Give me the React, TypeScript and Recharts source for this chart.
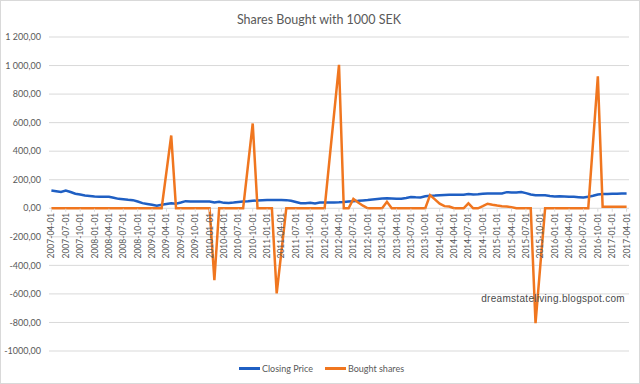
import React from 'react';
import { LineChart, Line, XAxis, YAxis, CartesianGrid, Legend } from 'recharts';

// monthly categories 2007-04 .. 2017-04
const START_YEAR = 2007;
const START_MONTH = 4;
const MONTH_COUNT = 121;
const months: string[] = Array.from({ length: MONTH_COUNT }, (_, i) => {
	const m = START_MONTH - 1 + i;
	const yy = START_YEAR + Math.floor(m / 12);
	const mm = (m % 12) + 1;
	return `${yy}-${String(mm).padStart(2, '0')}-01`;
});

const closingPrice = [
	125, 120, 114, 124, 114, 102, 96, 90, 86, 82, 80, 80, 80, 74, 66, 64, 60, 57, 47, 36,
	30, 24, 18, 24, 30, 35, 32, 40, 50, 48, 47, 47, 48, 47, 40, 46, 38, 37, 40, 44,
	48, 50, 53, 54, 56, 58, 58, 58, 58, 57, 52, 44, 35, 36, 38, 34, 40, 40, 41, 41,
	42, 44, 47, 50, 52, 55, 58, 62, 65, 68, 70, 69, 67, 66, 72, 79, 77, 76, 84, 88,
	89, 91, 93, 94, 94, 94, 95, 100, 96, 98, 101, 103, 103, 103, 104, 113, 111, 110, 114, 106,
	96, 92, 92, 91, 86, 82, 84, 83, 81, 80, 78, 76, 80, 88, 97, 100, 100, 101, 101, 103,
	104,
];

const boughtShares = [
	0, 0, 0, 0, 0, 0, 0, 0, 0, 0, 0, 0, 0, 0, 0, 0, 0, 0, 0, 0,
	0, 0, 0, 0, 255, 510, 0, 0, 0, 0, 0, 0, 0, 0, -504, 0, 0, 0, 0, 0,
	0, 297, 594, 0, 0, 0, 0, -596, -300, 0, 0, 0, 0, 0, 0, 0, 0, 0, 335, 670,
	1005, 0, 0, 65, 40, 18, 0, 0, 0, 0, 45, 0, 0, 0, 0, 0, 0, 0, 0, 92,
	62, 32, 15, 12, 0, 0, 0, 35, 0, 0, 15, 32, 25, 19, 15, 12, 8, 0, 0, 0,
	0, -805, -400, 0, 0, 0, 0, 0, 0, 0, 0, 0, 0, 462, 925, 10, 10, 10, 10, 10,
	10,
];

const yTicks = [-1000, -800, -600, -400, -200, 0, 200, 400, 600, 800, 1000, 1200];
const yTickLabels = ['-1000,00', '-800,00', '-600,00', '-400,00', '-200,00', '0,00', '200,00', '400,00', '600,00', '800,00', '1\u00a0000,00', '1\u00a0200,00'];

const data = months.map((m, i) => ({ date: m, closing: closingPrice[i], shares: boughtShares[i] }));

const Y_MIN = -1000;
const Y_MAX = 1200;
const TOP = 37;
const FONT = 'Lato, "Open Sans", sans-serif';
const TEXT = '#595959';

function DateTick(props: any) {
	const { x, y, payload } = props;
	// category axis crosses the value axis at 0
	const zeroY = TOP + (y - TOP) * (Y_MAX / (Y_MAX - Y_MIN));
	const ty = zeroY + 4;
	return (
		<g>
			<line x1={x} x2={x} y1={zeroY} y2={zeroY + 3} stroke='#d9d9d9' />
			<text
				x={x}
				y={ty}
				transform={`rotate(-90, ${x}, ${ty})`}
				textAnchor='end'
				dominantBaseline='central'
				fontSize={8.5}
				fontFamily={FONT}
				fill={TEXT}
			>
				{payload.value}
			</text>
		</g>
	);
}

function LegendContent(props: any) {
	const items = props.payload || [];
	return (
		<div style={{ display: 'flex', justifyContent: 'center', paddingLeft: 13, fontSize: 9, color: TEXT, fontFamily: FONT }}>
			{items.map((e: any, i: number) => (
				<span key={e.value} style={{ display: 'flex', alignItems: 'center', marginLeft: i ? 12 : 0 }}>
					<span style={{ display: 'inline-block', width: 21, height: 3, background: e.color, marginRight: 2 }} />
					{e.value}
				</span>
			))}
		</div>
	);
}

export default function App() {
	return (
		<div
			style={{
				position: 'absolute',
				left: 0,
				top: 0,
				width: 640,
				height: 384,
				background: '#fff',
				border: '1px solid #d9d9d9',
				boxSizing: 'border-box',
				fontFamily: FONT,
			}}
		>
			<div style={{ position: 'absolute', top: 11, left: 0, width: 636, textAlign: 'center', fontSize: 12.5, color: TEXT }}>
				Shares Bought with 1000 SEK
			</div>
			<LineChart width={638} height={382} data={data} margin={{ top: TOP - 1, right: 10, left: 0, bottom: 20 }}>
				<CartesianGrid vertical={false} stroke='#d9d9d9' />
				<XAxis
					dataKey='date'
					scale='band'
					interval={2}
					height={1}
					tickSize={0}
					tickMargin={0}
					axisLine={false}
					tickLine={false}
					tick={(p: any) => <DateTick {...p} />}
				/>
				<YAxis
					domain={[Y_MIN, Y_MAX]}
					ticks={yTicks}
					width={48}
					axisLine={false}
					tickLine={false}
					tickSize={0}
					tickMargin={8}
					tick={{ fontSize: 9, fill: TEXT, fontFamily: FONT }}
					tickFormatter={(v: number) => yTickLabels[yTicks.indexOf(v)]}
				/>
				<Legend
					verticalAlign='bottom'
					itemSorter='dataKey'
					wrapperStyle={{ bottom: 9 }}
					content={(p: any) => <LegendContent {...p} />}
				/>
				<Line
					type='linear'
					dataKey='closing'
					name='Closing Price'
					stroke='#1f5fc3'
					strokeWidth={2.5}
					dot={false}
					isAnimationActive={false}
				/>
				<Line
					type='linear'
					dataKey='shares'
					name='Bought shares'
					stroke='#f0761f'
					strokeWidth={2.5}
					dot={false}
					isAnimationActive={false}
				/>
			</LineChart>
			<div style={{ position: 'absolute', top: 292, right: 14, fontSize: 10, color: '#4a4a4a', fontFamily: '"Liberation Sans", sans-serif', letterSpacing: 0.3 }}>
				dreamstateliving.blogspot.com
			</div>
		</div>
	);
}
